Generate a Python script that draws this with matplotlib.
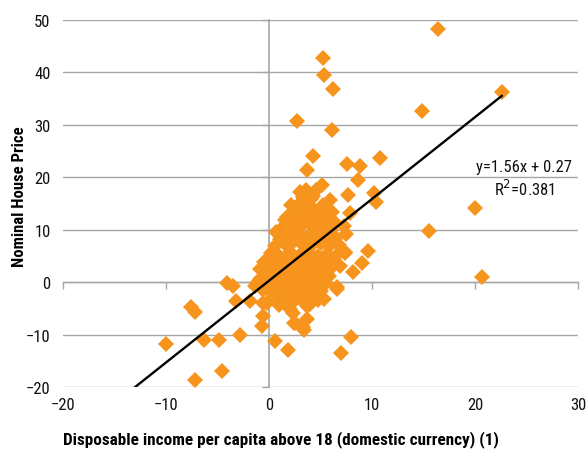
import matplotlib
matplotlib.use("Agg")
import matplotlib.pyplot as plt
from matplotlib import font_manager
import numpy as np

avail = {f.name for f in font_manager.fontManager.ttflist}
fam = None
for cand in ["Liberation Sans Narrow", "Roboto Condensed", "Open Sans Condensed", "Liberation Sans"]:
    if cand in avail:
        fam = cand
        break
plt.rcParams['font.family'] = [fam, 'DejaVu Sans'] if fam else ['DejaVu Sans']

# ---- data ----
outlier_x = [16.4, 5.2, 5.3, 6.2, 22.6, 14.9, 2.7, 6.1, 4.3, 10.8, 3.7, 7.6, 8.8, 8.6,
             20.0, 15.5, 20.7, 10.2, 10.4, 7.7, 5.1, 7.9, 9.6, 9.0, 8.0, 7.0, 1.8, 0.6]
outlier_y = [48.3, 42.7, 39.5, 36.8, 36.2, 32.6, 30.7, 29.1, 24.0, 23.7, 21.3, 22.6, 22.1, 19.5,
             14.2, 9.7, 1.0, 17.0, 15.3, 16.7, 18.6, 13.2, 5.9, 3.6, -10.5, -13.5, -13.0, -11.3]

left_x = [-3.2, -4.1, -3.5, -7.6, -7.2, -10.0, -6.3, -4.9, -4.6, -7.2, -2.8, -0.7, -0.6,
          -1.8, -0.9, -0.4]
left_y = [-3.6, -0.1, -0.8, -4.8, -5.7, -11.8, -11.1, -11.0, -16.9, -18.6, -10.1, -8.3, -6.4,
          -3.6, 0.6, 3.8]

cluster_x = [3.0, 3.6, 4.6, 4.3, 5.9, 5.2, 2.1, 1.7, 3.1, 4.0, 2.6, 3.5, 4.7, 5.6, 6.4, 7.3,
             6.1, 2.2, 3.0, 4.0, 5.0, 6.0, 1.2, 0.7, 1.9, 2.8, 3.8, 4.6, 5.4, 6.5, 7.5,
             0.6, 1.5, 2.4, 3.2, 4.2, 5.0, 5.8, 6.8, 0.2, 1.0, 2.0, 3.0, 3.8, 4.8, 5.6,
             6.5, 7.4, -0.5, 0.5, 1.5, 2.5, 3.4, 4.4, 5.3, 6.2, 6.9, 8.2, -0.9, 0.0, 1.0,
             2.0, 3.0, 4.0, 4.9, 5.8, -1.2, -0.3, 0.8, 1.8, 2.7, 3.6, 4.5, 5.5, 6.6,
             -1.4, -0.6, 0.3, 1.2, 2.2, 3.1, 4.1, 5.0, 6.6, -0.6, 0.7, 1.5, 2.3, 3.0,
             3.8, 4.8, 5.3, 2.0, 3.7, 2.3, 2.4, 3.7, 3.4, -0.2, 3.3, 2.5, 4.0, 7.4,
             3.3, 4.1, 2.5, 3.4, 4.4, 5.3, 1.6, 2.5, 3.5, 4.4, 5.1, 6.1, 1.1, 2.0, 2.9,
             3.6, 4.5, 5.4, 6.2, 0.4, 1.4, 2.3, 3.2, 4.1, 5.0, 5.9, 0.9, 1.7, 2.6, 3.5,
             4.3, 5.2, 0.2, 1.0, 1.9, 2.9, 3.8, 4.7, 0.5, 1.4, 2.4, 3.3, 4.3, 1.0, 2.8]
cluster_y = [17.1, 17.5, 17.5, 16.5, 15.6, 14.8, 14.8, 12.5, 15.2, 14.0, 13.0, 12.5, 12.8, 12.0,
             11.3, 10.7, 13.3, 11.0, 10.5, 11.0, 10.6, 10.0, 10.2, 9.5, 9.0, 9.3, 8.8, 9.4,
             8.8, 8.5, 9.2, 6.9, 7.5, 7.8, 7.2, 7.0, 7.4, 6.8, 7.0, 5.5, 5.0, 5.8, 5.2,
             5.7, 5.0, 5.4, 5.0, 5.5, 3.8, 3.5, 3.0, 3.6, 3.2, 3.5, 2.9, 3.1, 3.1, 1.9,
             2.5, 1.5, 1.8, 1.2, 1.7, 1.0, 1.5, 1.2, -0.2, 0.2, -0.3, 0.3, -0.5, 0.0,
             -0.6, -0.2, -1.0, -0.7, -1.5, -2.0, -1.4, -2.2, -1.8, -2.4, -1.6, -1.3,
             -3.9, -2.6, -3.3, -3.8, -3.0, -4.1, -3.5, -3.2, -5.2, -4.5, -5.8, -7.8,
             -7.1, -9.1, -3.9, -8.6, -7.7, -4.2, 5.7,
             16.2, 15.8, 14.0, 13.6, 13.8, 13.5, 11.8, 11.9, 11.7, 11.9, 11.6, 11.8, 8.3,
             8.2, 8.1, 8.0, 8.3, 8.1, 8.0, 4.4, 4.3, 4.5, 4.4, 4.3, 4.2, 4.4, 2.5, 2.6,
             2.4, 2.5, 2.3, 2.4, 0.8, 0.9, 0.7, 0.8, 0.6, 0.7, -1.0, -1.0, -1.1, -1.0,
             -1.2, -4.4, -2.8]

x_vals = np.array(outlier_x + left_x + cluster_x)
y_vals = np.array(outlier_y + left_y + cluster_y)

slope, intercept = 1.56, 0.27
r2_text = "0.381"
x_ticks = [-20, -10, 0, 10, 20, 30]
y_ticks = [-20, -10, 0, 10, 20, 30, 40, 50]

# ---- figure ----
fig = plt.figure(figsize=(5.88, 4.52), dpi=100)
ax = fig.add_axes([63/588, 1-388/452, 515/588, 367/452])
ax.set_xlim(-20, 30)
ax.set_ylim(-20, 50)

grid_c = '#a6a6a6'
for s in ax.spines.values():
    s.set_visible(False)
ax.set_yticks(y_ticks)
ax.set_xticks(x_ticks)
ax.yaxis.grid(True, color=grid_c, lw=1.0)
ax.set_axisbelow(True)
ax.tick_params(axis='both', length=0, labelsize=12, colors='#111111')
ax.tick_params(axis='x', pad=7)
ax.tick_params(axis='y', pad=9)

# axes crossing at zero
secx = ax.secondary_xaxis(20/70)
secx.set_xticks(x_ticks)
secx.set_xticklabels([])
secx.tick_params(axis='x', direction='out', length=5, color=grid_c, width=1)
secx.spines['bottom'].set_color(grid_c)
secx.spines['bottom'].set_linewidth(1)

secy = ax.secondary_yaxis(20/50)
secy.set_yticks(y_ticks)
secy.set_yticklabels([])
secy.tick_params(axis='y', direction='out', length=5, color=grid_c, width=1)
secy.spines['left'].set_color(grid_c)
secy.spines['left'].set_linewidth(1.2)

ax.plot(x_vals, y_vals, linestyle='none', marker='D', markersize=8.5,
        color='#f7941d', markeredgewidth=0, zorder=3)

# trend line
x_lo = (-20 - intercept) / slope
x_hi = x_vals.max()
xs = np.array([x_lo, x_hi])
ax.plot(xs, slope * xs + intercept, color='black', lw=1.7, zorder=4)

ax.text(24.8, 19.8, f"y={slope:.2f}x + {intercept:.2f}\nR$^2$={r2_text}", ha='center', va='center',
        fontsize=12, linespacing=1.2, color='#111111', zorder=5)

fig.text(20/588, 1-197/452, "Nominal House Price", rotation=90,
         ha='center', va='center', fontsize=12, fontweight='bold')
fig.text(281/588, 1-440/452, "Disposable income per capita above 18 (domestic currency) (1)",
         ha='center', va='center', fontsize=12.3, fontweight='bold')

fig.savefig("out.png", dpi=100)
